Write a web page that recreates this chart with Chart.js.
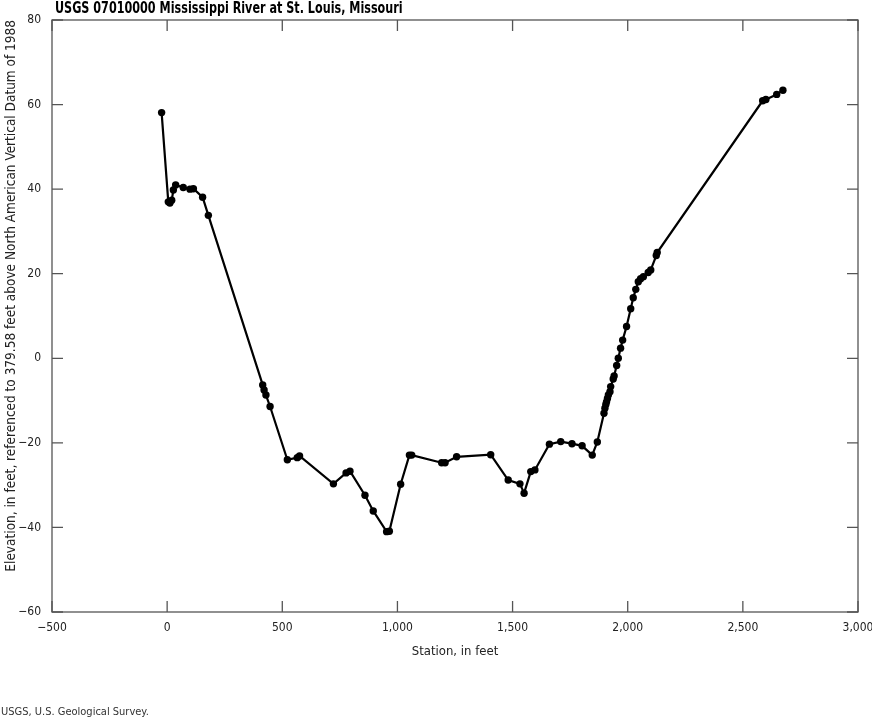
<!DOCTYPE html>
<html>
<head>
<meta charset="utf-8">
<script src="https://cdn.jsdelivr.net/npm/chart.js@4/dist/chart.umd.min.js"></script>
<style>
html,body{margin:0;padding:0;background:#fff;}
canvas{display:block;}
</style>
</head>
<body>
<canvas id="c" width="872" height="719"></canvas>
<script>
const stations = [-24, 5, 12, 20, 27, 37, 70, 99, 114, 154, 179, 415, 421, 429, 447, 522, 565, 575, 722, 777, 794, 859, 895, 953, 965, 1014, 1052, 1062, 1192, 1207, 1257, 1405, 1481, 1532, 1550, 1579, 1597, 1660, 1709, 1758, 1802, 1846, 1868, 1897, 1901, 1905, 1908, 1912, 1916, 1923, 1926, 1937, 1941, 1952, 1959, 1969, 1978, 1995, 2013, 2024, 2035, 2046, 2056, 2068, 2089, 2100, 2124, 2128, 2586, 2600, 2647, 2674];
const elevations = [58.1, 37.0, 36.7, 37.4, 39.8, 41.0, 40.4, 40.0, 40.1, 38.1, 33.8, -6.3, -7.5, -8.7, -11.4, -24.0, -23.5, -23.1, -29.7, -27.1, -26.7, -32.4, -36.1, -41.0, -40.9, -29.8, -22.9, -22.9, -24.7, -24.7, -23.3, -22.8, -28.8, -29.7, -31.9, -26.8, -26.4, -20.3, -19.7, -20.2, -20.7, -22.9, -19.8, -13.0, -11.8, -10.9, -10.3, -9.5, -8.7, -7.9, -6.7, -4.9, -4.2, -1.7, 0.0, 2.4, 4.3, 7.5, 11.7, 14.3, 16.3, 18.1, 18.8, 19.3, 20.3, 20.9, 24.3, 25.0, 60.9, 61.2, 62.4, 63.4];
const xTicks = [-500, 0, 500, 1000, 1500, 2000, 2500, 3000];
const yTicks = [-60, -40, -20, 0, 20, 40, 60, 80];
const chartTitle = "USGS 07010000 Mississippi River at St. Louis, Missouri";
const xTitle = "Station, in feet";
const yTitle = "Elevation, in feet, referenced to 379.58 feet above North American Vertical Datum of 1988";
const footer = "USGS, U.S. Geological Survey.";

const FONT = "'Liberation Sans Narrow', 'DejaVu Sans Condensed', 'Roboto', sans-serif";
const fmt = v => {
  const s = Math.abs(v).toLocaleString('en-US');
  return v < 0 ? '\u2212' + s : s;
};

const boxPlugin = {
  id: 'box',
  afterDraw(chart) {
    const {ctx, chartArea: a, scales} = chart;
    ctx.save();
    ctx.strokeStyle = '#555';
    ctx.lineWidth = 1.3;
    ctx.strokeRect(a.left, a.top, a.right - a.left, a.bottom - a.top);
    const L = 11;
    ctx.beginPath();
    xTicks.forEach(v => {
      const px = scales.x.getPixelForValue(v);
      ctx.moveTo(px, a.bottom); ctx.lineTo(px, a.bottom - L);
      ctx.moveTo(px, a.top); ctx.lineTo(px, a.top + L);
    });
    yTicks.forEach(v => {
      const py = scales.y.getPixelForValue(v);
      ctx.moveTo(a.left, py); ctx.lineTo(a.left + L, py);
      ctx.moveTo(a.right, py); ctx.lineTo(a.right - L, py);
    });
    ctx.stroke();
    ctx.fillStyle = '#000';
    ctx.textBaseline = 'middle';
    ctx.textAlign = 'left';
    ctx.save();
    ctx.translate(a.left + 3, 9);
    ctx.scale(0.83, 1);
    ctx.font = "bold 15px " + FONT;
    ctx.fillText(chartTitle, 0, 0);
    ctx.restore();
    ctx.fillStyle = '#333';
    ctx.font = "11px " + FONT;
    ctx.fillText(footer, 1, 712);
    ctx.restore();
  }
};

new Chart(document.getElementById('c'), {
  type: 'scatter',
  data: {
    datasets: [{
      data: stations.map((s, i) => ({x: s, y: elevations[i]})),
      showLine: true,
      borderColor: '#000',
      backgroundColor: '#000',
      borderWidth: 2.2,
      pointRadius: 3.7,
      pointHoverRadius: 3.7,
      pointBorderWidth: 0
    }]
  },
  options: {
    responsive: false,
    animation: false,
    layout: {padding: {top: 20, right: 14, bottom: 56, left: 0}},
    plugins: {legend: {display: false}, tooltip: {enabled: false}, title: {display: false}},
    scales: {
      x: {
        type: 'linear', min: -500, max: 3000,
        afterBuildTicks: s => { s.ticks = xTicks.map(v => ({value: v})); },
        afterFit: s => { s.height = 51; s.paddingRight = 0; s.paddingLeft = 0; },
        grid: {display: false, drawTicks: false},
        border: {display: false},
        ticks: {padding: 9, color: '#222', font: {family: FONT, size: 12}, callback: v => fmt(v), maxRotation: 0, autoSkip: false},
        title: {display: true, text: xTitle, color: '#222', font: {family: FONT, size: 13}, padding: {top: 4, bottom: 4}}
      },
      y: {
        type: 'linear', min: -60, max: 80,
        afterBuildTicks: s => { s.ticks = yTicks.map(v => ({value: v})); },
        afterFit: s => { s.width = 52; s.paddingTop = 0; s.paddingBottom = 0; },
        grid: {display: false, drawTicks: false},
        border: {display: false},
        ticks: {padding: 11, color: '#222', font: {family: FONT, size: 12}, callback: v => fmt(v), autoSkip: false},
        title: {display: true, text: yTitle, align: 'end', color: '#222', font: {family: FONT, size: 13.5}, padding: {top: 3, bottom: 0}}
      }
    }
  },
  plugins: [boxPlugin]
});
</script>
</body>
</html>
